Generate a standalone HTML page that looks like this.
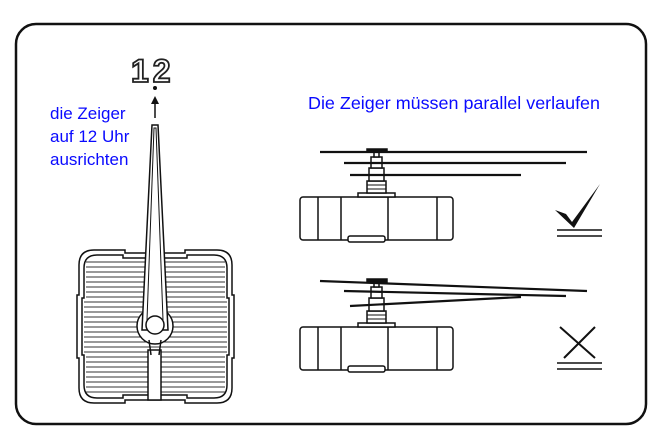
<!DOCTYPE html>
<html><head><meta charset="utf-8"><style>
html,body{margin:0;padding:0;background:#fff;}
svg{display:block}
text{font-family:"Liberation Sans",sans-serif;}
</style></head><body>
<svg width="666" height="443" viewBox="0 0 666 443" xmlns="http://www.w3.org/2000/svg">
<rect x="16" y="24" width="630" height="400" rx="20" fill="#fff" stroke="#111" stroke-width="2.5"/>
<text x="50" y="119" font-size="17" fill="#0a0aff">die Zeiger</text>
<text x="50" y="142" font-size="17" fill="#0a0aff">auf 12 Uhr</text>
<text x="50" y="165" font-size="17" fill="#0a0aff">ausrichten</text>
<text x="308" y="109" font-size="17.5" fill="#0a0aff" textLength="292" lengthAdjust="spacingAndGlyphs">Die Zeiger müssen parallel verlaufen</text>
<text x="131" y="82" font-size="32" font-weight="bold" fill="#fff" stroke="#222" stroke-width="1.8" letter-spacing="4">12</text>
<circle cx="155" cy="88" r="2" fill="#111"/>
<line x1="155" y1="118" x2="155" y2="102" stroke="#111" stroke-width="1.5"/>
<polygon points="155,96 151,104 159,104" fill="#111"/>
<g stroke="#111" fill="#fff">
<path d="M94,250 H125 V253 H185 V250 H217 Q232,250 232,265 V295 H234 V358 H232 V388 Q232,403 217,403 H185 V400 H125 V403 H94 Q79,403 79,388 V358 H77 V295 H79 V265 Q79,250 94,250 Z" stroke-width="1.5"/>
<path d="M97,255 H123 V258 H187 V255 H214 Q227,255 227,268 V298 H229 V355 H227 V385 Q227,398 214,398 H187 V395 H123 V398 H97 Q84,398 84,385 V355 H82 V298 H84 V268 Q84,255 97,255 Z" stroke-width="1.5"/>
</g>
<g stroke="#333" stroke-width="1">
<line x1="86" y1="262" x2="225" y2="262"/><line x1="86" y1="267" x2="225" y2="267"/><line x1="86" y1="272" x2="225" y2="272"/><line x1="86" y1="277" x2="225" y2="277"/><line x1="86" y1="282" x2="225" y2="282"/><line x1="86" y1="287" x2="225" y2="287"/><line x1="86" y1="292" x2="225" y2="292"/><line x1="86" y1="297" x2="225" y2="297"/><line x1="84" y1="302" x2="227" y2="302"/><line x1="84" y1="307" x2="227" y2="307"/><line x1="84" y1="312" x2="227" y2="312"/><line x1="84" y1="317" x2="227" y2="317"/><line x1="84" y1="322" x2="227" y2="322"/><line x1="84" y1="327" x2="227" y2="327"/><line x1="84" y1="332" x2="227" y2="332"/><line x1="84" y1="337" x2="227" y2="337"/><line x1="84" y1="342" x2="227" y2="342"/><line x1="84" y1="347" x2="227" y2="347"/><line x1="84" y1="352" x2="227" y2="352"/><line x1="86" y1="357" x2="225" y2="357"/><line x1="86" y1="362" x2="225" y2="362"/><line x1="86" y1="367" x2="225" y2="367"/><line x1="86" y1="372" x2="225" y2="372"/><line x1="86" y1="377" x2="225" y2="377"/><line x1="86" y1="382" x2="225" y2="382"/><line x1="86" y1="387" x2="225" y2="387"/><line x1="86" y1="392" x2="225" y2="392"/>
</g>
<g stroke="#111" stroke-width="1.5" fill="#fff">
<circle cx="155" cy="326" r="18"/>
<rect x="148" y="350" width="13" height="50"/>
<path d="M149,340 L151,355 M161,340 L159,355" fill="none"/>
<path d="M152,125 L158,125 L168,330 L142,330 Z"/>
<path d="M154,128 L156,128 L163,320 L147,320 Z" fill="none" stroke-width="1"/>
<circle cx="155" cy="325" r="9"/>
</g>
<g id="mv" stroke="#111" stroke-width="1.5" fill="#fff">
<rect x="300" y="197" width="153" height="43" rx="3"/>
<line x1="318" y1="197" x2="318" y2="240"/><line x1="341" y1="197" x2="341" y2="240"/><line x1="388" y1="197" x2="388" y2="240"/><line x1="437" y1="197" x2="437" y2="240"/>
<rect x="348" y="236" width="37" height="6" rx="2"/>
<rect x="358" y="193" width="37" height="4"/>
<rect x="367" y="181" width="19" height="12"/>
<line x1="367" y1="185" x2="386" y2="185" stroke-width="1"/><line x1="367" y1="189" x2="386" y2="189" stroke-width="1"/>
<rect x="369" y="168" width="15" height="13"/>
<rect x="371" y="157" width="11" height="11"/>
<rect x="374" y="152" width="5" height="5"/>
<rect x="367" y="149" width="20" height="3" fill="#111"/>
</g>
<use href="#mv" y="130"/>
<g stroke="#111" stroke-width="2.2">
<line x1="320" y1="152" x2="587" y2="152"/>
<line x1="344" y1="163" x2="566" y2="163"/>
<line x1="350" y1="175" x2="521" y2="175"/>
<line x1="320" y1="281" x2="587" y2="291"/>
<line x1="344" y1="291" x2="566" y2="296"/>
<line x1="350" y1="306" x2="521" y2="297"/>
</g>
<path d="M555,210 L566,214 L572,222 L600,184 L574,228 Z" fill="#111"/>
<g stroke="#111" stroke-width="1.6">
<line x1="557" y1="230" x2="602" y2="230"/><line x1="557" y1="236" x2="602" y2="236"/>
<line x1="560" y1="327" x2="595" y2="358" stroke-width="2"/><line x1="595" y1="327" x2="564" y2="358" stroke-width="2"/>
<line x1="557" y1="363" x2="602" y2="363"/><line x1="557" y1="369" x2="602" y2="369"/>
</g>
</svg>
</body></html>
